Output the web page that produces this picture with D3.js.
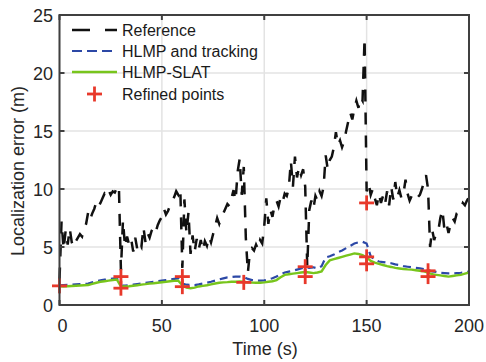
<!DOCTYPE html>
<html>
<head>
<meta charset="utf-8">
<script src="https://cdn.jsdelivr.net/npm/d3@7"></script>
<style>
html,body{margin:0;padding:0;background:#fff;}
svg text{font-family:"Liberation Sans",Arial,Helvetica,sans-serif;}
</style>
</head>
<body>
<svg id="chart" width="486" height="362"></svg>
<script>
// ---- data ----
const seriesNames = ["Reference", "HLMP and tracking", "HLMP-SLAT", "Refined points"];
const xTicks = [0, 50, 100, 150, 200];
const yTicks = [0, 5, 10, 15, 20, 25];

// Reference error, one sample per second, t = 0..200
const referenceErr = [
  2.2, 7.2, 4.8, 6.4, 5.2, 6.6, 5.4, 5.0, 5.5, 5.8,
  6.1, 5.9, 6.6, 7.0, 8.0, 7.4, 7.9, 8.3, 8.9, 8.5,
  8.8, 9.2, 9.6, 9.4, 9.9, 9.5, 9.8, 9.7, 10.1, 10.3,
  3.0, 7.3, 5.0, 5.9, 5.2, 5.7, 4.6, 5.8, 4.8, 5.3,
  5.0, 6.7, 5.4, 6.2, 5.8, 6.4, 6.7, 6.3, 6.9, 7.3,
  7.6, 8.3, 7.8, 8.1, 8.6, 8.9, 9.3, 9.8, 9.5, 10.0,
  3.2, 9.1, 6.2, 8.0, 4.4, 6.0, 4.6, 5.7, 4.8, 5.6,
  4.7, 5.5, 5.1, 5.9, 5.4, 6.1, 6.8, 7.5, 7.0, 7.6,
  7.9, 8.3, 8.7, 8.5, 9.2, 9.9, 9.0, 11.5, 12.6, 9.5,
  11.9, 5.8, 2.8, 4.6, 4.9, 4.7, 5.2, 4.8, 5.6, 5.3,
  6.8, 9.2, 7.0, 8.2, 7.6, 8.6, 9.0, 8.5, 9.3, 8.9,
  9.6, 9.4, 10.1, 12.4, 10.2, 12.8, 11.0, 11.9, 11.2, 11.7,
  10.2, 3.3, 8.2, 9.0, 8.3, 9.4, 9.0, 9.8, 9.4, 10.2,
  12.9, 11.7, 12.5, 12.8, 13.6, 14.9, 13.8, 14.2, 13.6, 14.1,
  15.0, 15.8, 16.6, 16.0, 16.9, 17.6, 17.0, 17.9, 17.6, 23.0,
  9.8, 10.5, 9.5, 10.0, 9.2, 8.6, 9.6, 8.8, 9.4, 8.7,
  9.8, 8.6, 10.2, 9.1, 10.6, 9.3, 9.9, 9.2, 9.6, 10.8,
  9.6, 9.0, 9.4, 9.2, 9.0, 9.3, 9.5, 10.0, 10.6, 11.2,
  10.0, 5.0, 6.5, 5.6, 6.2, 6.4, 7.5, 8.2, 6.5, 7.0,
  6.2, 7.0, 7.5, 7.2, 7.9, 8.0, 8.3, 8.8, 8.6, 9.0,
  9.3
];

// HLMP and tracking / HLMP-SLAT, one sample every 2 s, t = 0..200
const trackingErr = [
  1.70, 1.72, 1.74, 1.76, 1.78, 1.80, 1.82, 1.85, 1.95, 2.05,
  2.12, 2.18, 2.22, 2.28, 2.32, 1.70, 1.68, 1.70, 1.75, 1.80,
  1.85, 1.90, 1.95, 2.00, 2.05, 2.10, 2.15, 2.20, 2.25, 2.30,
  1.85, 1.75, 1.72, 1.72, 1.78, 1.85, 1.92, 2.00, 2.10, 2.20,
  2.30, 2.38, 2.42, 2.45, 2.45, 2.40, 2.25, 2.15, 2.10, 2.10,
  2.12, 2.20, 2.30, 2.45, 2.65, 2.80, 2.88, 2.95, 3.05, 3.15,
  3.25, 3.20, 3.25, 3.15, 3.35, 4.10, 4.20, 4.35, 4.55, 4.70,
  4.90, 5.10, 5.30, 5.40, 5.45, 5.30, 4.20, 3.90, 3.75, 3.70,
  3.65, 3.60, 3.50, 3.45, 3.35, 3.30, 3.25, 3.20, 3.15, 3.10,
  3.00, 2.90, 2.85, 2.78, 2.75, 2.72, 2.72, 2.75, 2.78, 2.82,
  2.88
];
const slatErr = [
  1.62, 1.60, 1.62, 1.64, 1.66, 1.68, 1.70, 1.72, 1.82, 1.92,
  2.00, 2.05, 2.10, 2.15, 2.20, 1.60, 1.60, 1.62, 1.66, 1.70,
  1.76, 1.80, 1.85, 1.88, 1.92, 1.96, 2.00, 2.05, 2.08, 2.10,
  1.70, 1.50, 1.45, 1.50, 1.60, 1.65, 1.70, 1.78, 1.85, 1.92,
  1.95, 1.97, 2.00, 2.00, 2.02, 2.00, 1.95, 1.93, 1.92, 1.92,
  1.95, 2.00, 2.05, 2.15, 2.40, 2.60, 2.65, 2.70, 2.75, 2.80,
  2.85, 2.80, 2.75, 2.80, 2.90, 3.45, 3.85, 3.95, 4.05, 4.15,
  4.25, 4.35, 4.45, 4.40, 4.30, 4.10, 3.80, 3.65, 3.55, 3.45,
  3.35, 3.28, 3.20, 3.15, 3.10, 3.07, 3.05, 3.00, 2.95, 2.90,
  2.80, 2.65, 2.60, 2.55, 2.50, 2.45, 2.50, 2.55, 2.60, 2.70,
  2.80
];

// Refined points
const refinedT = [0, 30, 30, 60, 60, 90, 120, 120, 150, 150, 150, 180, 180];
const refinedErr = [1.65, 2.45, 1.45, 2.45, 1.58, 1.95, 3.3, 2.45, 8.8, 4.15, 3.55, 2.95, 2.45];

// ---- layout ----
const svg = d3.select("#chart");
const L = 59.5, R = 469, T = 15, B = 305;
const x = d3.scaleLinear().domain([0, 200]).range([L, R]);
const y = d3.scaleLinear().domain([0, 25]).range([B, T]);

const axisCol = "#404040";
const gridCol = "#e3e3e3";
const fs = 18;

// grid
const g = svg.append("g");
g.selectAll("line.vg").data(xTicks).enter().append("line")
  .attr("x1", d => x(d)).attr("x2", d => x(d)).attr("y1", T).attr("y2", B)
  .attr("stroke", gridCol).attr("stroke-width", 1.5);
g.selectAll("line.hg").data(yTicks).enter().append("line")
  .attr("y1", d => y(d)).attr("y2", d => y(d)).attr("x1", L).attr("x2", R)
  .attr("stroke", gridCol).attr("stroke-width", 1.5);

// series
const refData = referenceErr.map((v, i) => [i, v]);
const trkData = trackingErr.map((v, i) => [i * 2, v]);
const slatData = slatErr.map((v, i) => [i * 2, v]);
const line = d3.line().x(d => x(d[0])).y(d => y(d[1]));

svg.append("path").datum(refData).attr("d", line)
  .attr("fill", "none").attr("stroke", "#111").attr("stroke-width", 2.5)
  .attr("stroke-dasharray", "12,11");
svg.append("path").datum(trkData).attr("d", line)
  .attr("fill", "none").attr("stroke", "#2c48a6").attr("stroke-width", 2.2)
  .attr("stroke-dasharray", "8,5");
svg.append("path").datum(slatData).attr("d", line)
  .attr("fill", "none").attr("stroke", "#78c51c").attr("stroke-width", 2.4);

// refined points (plus markers)
const plusSize = 7.5;
const pts = svg.append("g");
refinedT.forEach((t, i) => {
  const cx = x(t), cy = y(refinedErr[i]);
  pts.append("line").attr("x1", cx - plusSize).attr("x2", cx + plusSize).attr("y1", cy).attr("y2", cy)
    .attr("stroke", "#e8392b").attr("stroke-width", 2.8);
  pts.append("line").attr("x1", cx).attr("x2", cx).attr("y1", cy - plusSize).attr("y2", cy + plusSize)
    .attr("stroke", "#e8392b").attr("stroke-width", 2.8);
});

// axes box
const ax = svg.append("g");
ax.append("rect").attr("x", L).attr("y", T).attr("width", R - L).attr("height", B - T)
  .attr("fill", "none").attr("stroke", axisCol).attr("stroke-width", 2);

// ticks (inward, all sides)
const tl = 5;
xTicks.forEach(t => {
  ax.append("line").attr("x1", x(t)).attr("x2", x(t)).attr("y1", B).attr("y2", B - tl).attr("stroke", axisCol).attr("stroke-width", 2);
  ax.append("line").attr("x1", x(t)).attr("x2", x(t)).attr("y1", T).attr("y2", T + tl).attr("stroke", axisCol).attr("stroke-width", 2);
});
yTicks.forEach(t => {
  ax.append("line").attr("x1", L).attr("x2", L + tl).attr("y1", y(t)).attr("y2", y(t)).attr("stroke", axisCol).attr("stroke-width", 2);
  ax.append("line").attr("x1", R).attr("x2", R - tl).attr("y1", y(t)).attr("y2", y(t)).attr("stroke", axisCol).attr("stroke-width", 2);
});

// tick labels
svg.selectAll("text.xt").data(xTicks).enter().append("text")
  .attr("x", d => x(d) + (d === 0 ? 3 : 0)).attr("y", 332)
  .attr("text-anchor", "middle").attr("font-size", fs).attr("fill", "#262626")
  .text(d => d);
svg.selectAll("text.yt").data(yTicks).enter().append("text")
  .attr("x", 53).attr("y", d => y(d) + 6.5)
  .attr("text-anchor", "end").attr("font-size", fs).attr("fill", "#262626")
  .text(d => d);

// axis labels
svg.append("text").attr("x", 265).attr("y", 355).attr("text-anchor", "middle")
  .attr("font-size", fs).attr("fill", "#262626").text("Time (s)");
svg.append("text").attr("transform", "translate(24,171) rotate(-90)")
  .attr("text-anchor", "middle").attr("font-size", fs).attr("fill", "#262626")
  .text("Localization error (m)");

// legend (no box)
const lg = svg.append("g");
const lx1 = 72, lx2 = 117, ltx = 122;
const rows = [30, 51, 72, 94];
lg.append("line").attr("x1", lx1).attr("x2", lx2).attr("y1", rows[0]).attr("y2", rows[0])
  .attr("stroke", "#111").attr("stroke-width", 2.5).attr("stroke-dasharray", "18,15");
lg.append("line").attr("x1", lx1).attr("x2", lx2).attr("y1", rows[1]).attr("y2", rows[1])
  .attr("stroke", "#2c48a6").attr("stroke-width", 2.2).attr("stroke-dasharray", "10,5");
lg.append("line").attr("x1", lx1).attr("x2", lx2).attr("y1", rows[2]).attr("y2", rows[2])
  .attr("stroke", "#78c51c").attr("stroke-width", 2.4);
const mx = (lx1 + lx2) / 2, my = rows[3];
lg.append("line").attr("x1", mx - plusSize).attr("x2", mx + plusSize).attr("y1", my).attr("y2", my)
  .attr("stroke", "#e8392b").attr("stroke-width", 2.8);
lg.append("line").attr("x1", mx).attr("x2", mx).attr("y1", my - plusSize).attr("y2", my + plusSize)
  .attr("stroke", "#e8392b").attr("stroke-width", 2.8);
seriesNames.forEach((n, i) => {
  lg.append("text").attr("x", ltx).attr("y", rows[i] + 5.5).attr("font-size", 16)
    .attr("fill", "#1a1a1a").text(n);
});
</script>
</body>
</html>
